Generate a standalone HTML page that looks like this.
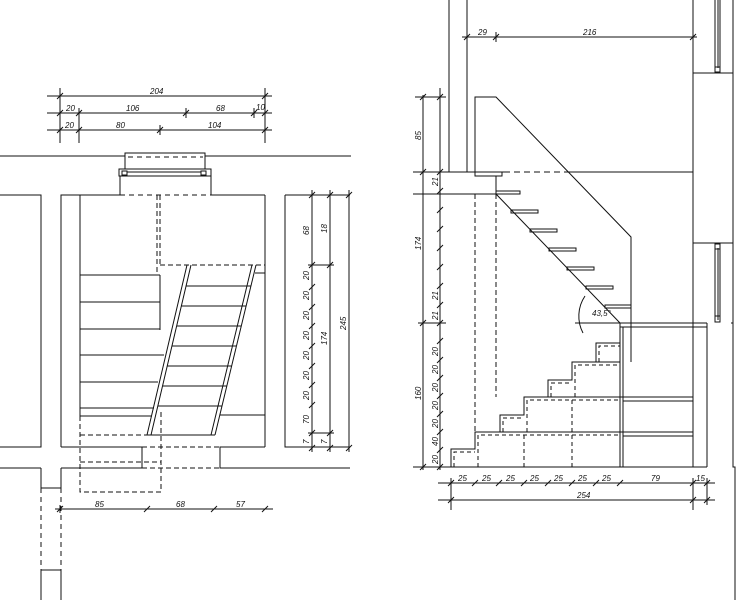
<!DOCTYPE html>
<html><head><meta charset="utf-8"><style>
html,body{margin:0;padding:0;background:#fff}
svg{display:block}
text{font-family:"Liberation Sans",sans-serif;font-size:8px;font-style:italic;fill:#111}
</style></head><body>
<svg width="740" height="600" viewBox="0 0 740 600" xmlns="http://www.w3.org/2000/svg">
<defs>
<g id="tk"><line x1="-3" y1="3" x2="3" y2="-3"/></g>
</defs>
<g stroke="#111" stroke-width="1" fill="none">
<!-- ===== LEFT PLAN ===== -->
<!-- top dims -->
<line x1="47" y1="96" x2="272" y2="96"/>
<line x1="47" y1="113" x2="272" y2="113"/>
<line x1="47" y1="130" x2="272" y2="130"/>
<line x1="60" y1="88" x2="60" y2="143"/>
<line x1="79" y1="108" x2="79" y2="143"/>
<line x1="160" y1="125" x2="160" y2="135"/>
<line x1="186" y1="108" x2="186" y2="118"/>
<line x1="254" y1="108" x2="254" y2="118"/>
<line x1="265" y1="88" x2="265" y2="143"/>
<use href="#tk" x="60" y="96"/><use href="#tk" x="265" y="96"/>
<use href="#tk" x="60" y="113"/><use href="#tk" x="79" y="113"/><use href="#tk" x="186" y="113"/><use href="#tk" x="254" y="113"/><use href="#tk" x="265" y="113"/>
<use href="#tk" x="60" y="130"/><use href="#tk" x="79" y="130"/><use href="#tk" x="160" y="130"/><use href="#tk" x="265" y="130"/>
<!-- top wall -->
<line x1="0" y1="156" x2="125" y2="156"/>
<line x1="205" y1="156" x2="351" y2="156"/>
<polyline points="125,169 125,153 205,153 205,169"/>
<line x1="128" y1="157" x2="203" y2="157" stroke-dasharray="5,4"/>
<rect x="119" y="169" width="92" height="7"/>
<rect x="122" y="171" width="5" height="4"/>
<rect x="201" y="171" width="5" height="4"/>
<line x1="127" y1="172" x2="201" y2="172"/>
<line x1="120" y1="176" x2="120" y2="195"/>
<line x1="211" y1="176" x2="211" y2="195"/>
<!-- left room -->
<polyline points="0,195 41,195 41,447 0,447"/>
<line x1="0" y1="468" x2="41" y2="468"/>
<polyline points="41,468 41,488 61,488 61,468"/>
<line x1="41" y1="488" x2="41" y2="570" stroke-dasharray="5,4"/>
<line x1="61" y1="488" x2="61" y2="570" stroke-dasharray="5,4"/>
<polyline points="41,600 41,570 61,570 61,600"/>
<!-- stair room -->
<polyline points="61,447 61,195 120,195"/>
<line x1="211" y1="195" x2="265" y2="195"/>
<line x1="120" y1="195" x2="211" y2="195" stroke-dasharray="5,4"/>
<line x1="80" y1="195" x2="80" y2="416"/>
<line x1="265" y1="195" x2="265" y2="447"/>
<line x1="157" y1="195" x2="157" y2="275" stroke-dasharray="5,3"/>
<line x1="160" y1="195" x2="160" y2="265" stroke-dasharray="5,3"/>
<line x1="160" y1="265" x2="265" y2="265" stroke-dasharray="5,3"/>
<!-- left flight -->
<line x1="80" y1="275" x2="160" y2="275"/>
<line x1="160" y1="275" x2="160" y2="330"/>
<line x1="80" y1="302" x2="160" y2="302"/>
<line x1="80" y1="329" x2="160" y2="329"/>
<line x1="80" y1="355" x2="164" y2="355"/>
<line x1="80" y1="382" x2="158" y2="382"/>
<line x1="80" y1="408" x2="154" y2="408"/>
<line x1="80" y1="416" x2="152" y2="416"/>
<!-- ladder -->
<line x1="187" y1="265" x2="147" y2="435"/>
<line x1="191" y1="265" x2="151" y2="435"/>
<line x1="252" y1="265" x2="211" y2="435"/>
<line x1="256" y1="265" x2="215" y2="435"/>
<line x1="186" y1="286" x2="251" y2="286"/>
<line x1="181" y1="306" x2="246" y2="306"/>
<line x1="177" y1="326" x2="241" y2="326"/>
<line x1="172" y1="346" x2="236" y2="346"/>
<line x1="167" y1="366" x2="232" y2="366"/>
<line x1="163" y1="386" x2="227" y2="386"/>
<line x1="158" y1="406" x2="222" y2="406"/>
<line x1="147" y1="435" x2="215" y2="435"/>
<line x1="255" y1="273" x2="265" y2="273"/>
<line x1="220" y1="415" x2="265" y2="415"/>
<!-- dashed below -->
<polyline points="80,416 80,492 161,492 161,410" stroke-dasharray="5,3"/>
<line x1="80" y1="435" x2="150" y2="435" stroke-dasharray="5,3"/>
<line x1="80" y1="462" x2="161" y2="462" stroke-dasharray="5,3"/>
<!-- bottom walls -->
<polyline points="61,447 142,447 142,468 61,468"/>
<line x1="142" y1="447" x2="220" y2="447" stroke-dasharray="5,3"/>
<line x1="142" y1="468" x2="220" y2="468" stroke-dasharray="5,3"/>
<polyline points="265,447 220,447 220,468 350,468"/>
<!-- right dim block -->
<polyline points="285,195 285,447 350,447"/>
<line x1="285" y1="195" x2="350" y2="195"/>
<line x1="312" y1="190" x2="312" y2="452"/>
<line x1="330" y1="190" x2="330" y2="452"/>
<line x1="349" y1="190" x2="349" y2="452"/>
<line x1="308" y1="265" x2="334" y2="265"/>
<line x1="308" y1="433" x2="334" y2="433"/>
<use href="#tk" x="312" y="195"/><use href="#tk" x="330" y="195"/><use href="#tk" x="349" y="195"/>
<use href="#tk" x="312" y="265"/><use href="#tk" x="330" y="265"/>
<use href="#tk" x="312" y="287"/><use href="#tk" x="312" y="307"/><use href="#tk" x="312" y="326"/><use href="#tk" x="312" y="346"/><use href="#tk" x="312" y="366"/><use href="#tk" x="312" y="385"/><use href="#tk" x="312" y="405"/>
<use href="#tk" x="312" y="433"/><use href="#tk" x="330" y="433"/>
<use href="#tk" x="312" y="448"/><use href="#tk" x="330" y="448"/><use href="#tk" x="349" y="448"/>
<!-- bottom dims -->
<line x1="55" y1="509" x2="273" y2="509"/>
<line x1="60" y1="505" x2="60" y2="513"/>
<use href="#tk" x="60" y="509"/><use href="#tk" x="147" y="509"/><use href="#tk" x="214" y="509"/><use href="#tk" x="265" y="509"/>

<!-- ===== RIGHT SECTION ===== -->
<line x1="449" y1="0" x2="449" y2="172"/>
<line x1="467" y1="0" x2="467" y2="172"/>
<line x1="462" y1="37" x2="697" y2="37"/>
<use href="#tk" x="467" y="37"/><use href="#tk" x="496" y="37"/><use href="#tk" x="693" y="37"/>
<line x1="496" y1="32" x2="496" y2="42"/>
<!-- right wall -->
<line x1="693" y1="0" x2="693" y2="73"/>
<line x1="733" y1="0" x2="733" y2="73"/>
<line x1="715" y1="0" x2="715" y2="68"/><line x1="718" y1="0" x2="718" y2="68"/><line x1="720" y1="0" x2="720" y2="68"/>
<rect x="715" y="67" width="5" height="5"/>
<rect x="693" y="73" width="40" height="170"/>
<line x1="715" y1="248" x2="715" y2="320"/><line x1="718" y1="248" x2="718" y2="320"/><line x1="720" y1="248" x2="720" y2="320"/>
<rect x="715" y="244" width="5" height="5"/>
<rect x="715" y="316" width="5" height="6"/>
<line x1="693" y1="243" x2="693" y2="467"/>
<line x1="733" y1="243" x2="733" y2="323"/>
<polyline points="731,323 733,323 733,467 735,467 735,600"/>
<!-- guard -->
<polyline points="475,172 475,97 496,97 631,237 631,362"/>
<line x1="413" y1="172" x2="504" y2="172"/>
<line x1="504" y1="172" x2="570" y2="172" stroke-dasharray="6,4"/>
<line x1="570" y1="172" x2="693" y2="172"/>
<rect x="475" y="172" width="27" height="4"/>
<line x1="496" y1="176" x2="496" y2="194"/>
<line x1="413" y1="194" x2="496" y2="194"/>
<!-- upper treads -->
<rect x="496" y="191" width="24" height="3"/>
<rect x="511" y="210" width="27" height="3"/>
<rect x="530" y="229" width="27" height="3"/>
<rect x="549" y="248" width="27" height="3"/>
<rect x="567" y="267" width="27" height="3"/>
<rect x="586" y="286" width="27" height="3"/>
<rect x="605" y="305" width="26" height="3"/>
<line x1="496" y1="194" x2="620" y2="323"/>
<path d="M 585 296 A 36 36 0 0 0 583 333"/>
<line x1="575" y1="323" x2="707" y2="323"/>
<line x1="620" y1="327" x2="707" y2="327"/>
<line x1="475" y1="194" x2="475" y2="432" stroke-dasharray="5,3"/>
<line x1="496" y1="194" x2="496" y2="397" stroke-dasharray="5,3"/>
<!-- lower stair -->
<line x1="413" y1="467" x2="707" y2="467"/>
<polyline points="451,467 451,449 475,449 475,432 500,432 500,415 524,415 524,397 548,397 548,380 572,380 572,362 596,362 596,343 620,343"/>
<line x1="475" y1="432" x2="693" y2="432"/>
<line x1="623" y1="436" x2="693" y2="436"/>
<line x1="524" y1="397" x2="693" y2="397"/>
<line x1="623" y1="401" x2="693" y2="401"/>
<line x1="572" y1="362" x2="620" y2="362"/>
<line x1="620" y1="323" x2="620" y2="467"/>
<line x1="623" y1="327" x2="623" y2="467"/>
<line x1="707" y1="323" x2="707" y2="467"/>
<g stroke-dasharray="4,3">
<polyline points="454,467 454,452 475,452"/>
<polyline points="478,467 478,435 620,435"/>
<line x1="524" y1="435" x2="524" y2="467"/>
<line x1="572" y1="435" x2="572" y2="467"/>
<polyline points="503,432 503,418 524,418"/>
<polyline points="527,432 527,400 620,400"/>
<line x1="572" y1="400" x2="572" y2="432"/>
<polyline points="551,397 551,383 572,383"/>
<polyline points="575,397 575,365 620,365"/>
<polyline points="599,362 599,346 620,346"/>
</g>
<!-- left dims -->
<line x1="423" y1="95" x2="423" y2="470"/>
<line x1="440" y1="88" x2="440" y2="470"/>
<line x1="415" y1="97" x2="446" y2="97"/>
<line x1="418" y1="323" x2="446" y2="323"/>
<use href="#tk" x="423" y="97"/><use href="#tk" x="440" y="97"/>
<use href="#tk" x="423" y="172"/><use href="#tk" x="440" y="172"/>
<use href="#tk" x="423" y="323"/><use href="#tk" x="423" y="467"/>
<use href="#tk" x="440" y="191"/><use href="#tk" x="440" y="210"/><use href="#tk" x="440" y="229"/><use href="#tk" x="440" y="248"/><use href="#tk" x="440" y="267"/><use href="#tk" x="440" y="286"/><use href="#tk" x="440" y="305"/><use href="#tk" x="440" y="323"/><use href="#tk" x="440" y="341"/><use href="#tk" x="440" y="360"/><use href="#tk" x="440" y="378"/><use href="#tk" x="440" y="396"/><use href="#tk" x="440" y="414"/><use href="#tk" x="440" y="432"/><use href="#tk" x="440" y="450"/><use href="#tk" x="440" y="467"/>
<!-- bottom dims -->
<line x1="438" y1="483" x2="715" y2="483"/>
<line x1="438" y1="500" x2="715" y2="500"/>
<line x1="451" y1="478" x2="451" y2="510"/>
<line x1="693" y1="478" x2="693" y2="510"/>
<line x1="707" y1="478" x2="707" y2="505"/>
<use href="#tk" x="451" y="483"/><use href="#tk" x="475" y="483"/><use href="#tk" x="499" y="483"/><use href="#tk" x="524" y="483"/><use href="#tk" x="548" y="483"/><use href="#tk" x="572" y="483"/><use href="#tk" x="596" y="483"/><use href="#tk" x="620" y="483"/><use href="#tk" x="693" y="483"/><use href="#tk" x="707" y="483"/>
<use href="#tk" x="451" y="500"/><use href="#tk" x="693" y="500"/><use href="#tk" x="707" y="500"/>
</g>
<!-- labels -->
<text x="150" y="94">204</text>
<text x="66" y="111">20</text><text x="126" y="111">106</text><text x="216" y="111">68</text><text x="256" y="110" font-size="6">10</text>
<text x="65" y="128">20</text><text x="116" y="128">80</text><text x="208" y="128">104</text>
<text x="95" y="507">85</text><text x="176" y="507">68</text><text x="236" y="507">57</text>
<g font-size="7">
<text transform="translate(309,235) rotate(-90)">68</text>
<text transform="translate(327,233) rotate(-90)">18</text>
<text transform="translate(309,280) rotate(-90)">20</text>
<text transform="translate(309,300) rotate(-90)">20</text>
<text transform="translate(309,320) rotate(-90)">20</text>
<text transform="translate(309,340) rotate(-90)">20</text>
<text transform="translate(309,360) rotate(-90)">20</text>
<text transform="translate(309,380) rotate(-90)">20</text>
<text transform="translate(309,400) rotate(-90)">20</text>
<text transform="translate(309,424) rotate(-90)">70</text>
<text transform="translate(309,444) rotate(-90)">7</text>
<text transform="translate(327,444) rotate(-90)">7</text>
<text transform="translate(327,345) rotate(-90)">174</text>
<text transform="translate(346,330) rotate(-90)">245</text>
<text transform="translate(421,140) rotate(-90)">85</text>
<text transform="translate(421,250) rotate(-90)">174</text>
<text transform="translate(421,400) rotate(-90)">160</text>
<text transform="translate(438,186) rotate(-90)">21</text>
<text transform="translate(438,300) rotate(-90)">21</text>
<text transform="translate(438,320) rotate(-90)">21</text>
<text transform="translate(438,356) rotate(-90)">20</text>
<text transform="translate(438,374) rotate(-90)">20</text>
<text transform="translate(438,392) rotate(-90)">20</text>
<text transform="translate(438,410) rotate(-90)">20</text>
<text transform="translate(438,428) rotate(-90)">20</text>
<text transform="translate(438,446) rotate(-90)">40</text>
<text transform="translate(438,464) rotate(-90)">20</text>
</g>
<text x="478" y="35">29</text><text x="583" y="35">216</text>
<text x="592" y="316" font-size="7">43,5°</text>
<g font-size="7">
<text x="458" y="481">25</text><text x="482" y="481">25</text><text x="506" y="481">25</text><text x="530" y="481">25</text><text x="554" y="481">25</text><text x="578" y="481">25</text><text x="602" y="481">25</text><text x="651" y="481">79</text><text x="696" y="481">15</text>
<text x="577" y="498">254</text>
</g>
</svg>
</body></html>
